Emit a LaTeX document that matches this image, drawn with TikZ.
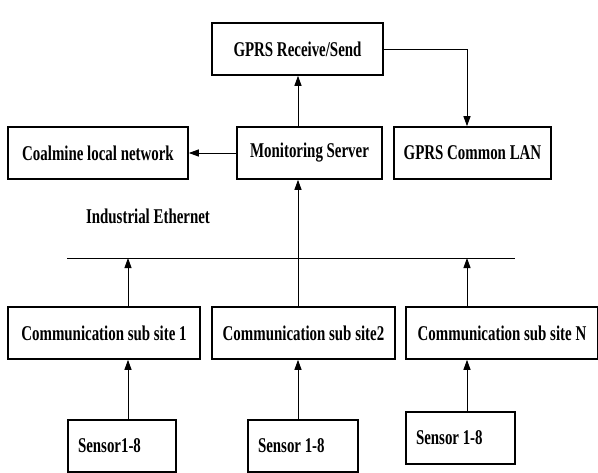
\documentclass[tikz,border=0pt]{standalone}
\usepackage{fontspec}
\usepackage{tikz}
\usetikzlibrary{arrows.meta}
\newfontfamily\diafont[FakeStretch=0.71]{Liberation Serif}

\begin{document}
\begin{tikzpicture}[x=1pt, y=-1pt, every node/.style = {shape=rectangle, draw, line width=1.6pt, fill=white, inner sep=0pt, align=center, font=\diafont\bfseries\fontsize{21}{23}\selectfont, minimum height=52pt}, link/.style = {draw, line width=1pt, -{Triangle[length=10pt,width=7pt]}}, sensorbox/.style = {inner xsep=10pt, align=flush left}]
    \useasboundingbox (0,0) rectangle (598,472);
    % columns of the links
    \coordinate (col1) at (128,0);
    \coordinate (col2) at (298,0);
    \coordinate (colN) at (467,0);
    % upper level
    \node[minimum width=171pt] (gprs) at (297.5,49) {GPRS Receive/Send};
    \node[minimum width=180pt] (coal) at (98,153) {Coalmine local network};
    \node[minimum width=145pt] (server) at (309.5,153) {Monitoring Server};
    \node[minimum width=157pt] (lan) at (472.5,153) {GPRS Common LAN};
    \node[draw=none, fill=none, minimum height=0pt] (eth) at (148,216) {Industrial Ethernet};
    % bus
    \coordinate (busl) at (67,258);
    \coordinate (busr) at (515,258);
    \draw[line width=1pt] (busl) -- (busr);
    % sub sites
    \node[minimum width=192pt] (site1) at (104,333) {Communication sub site 1};
    \node[minimum width=183pt] (site2) at (303.5,333) {Communication sub site2};
    \node[minimum width=192pt] (siteN) at (502,333) {Communication sub site N};
    % sensors
    \node[sensorbox, text width=88pt] (sen1) at (122,446) {Sensor1-8};
    \node[sensorbox, text width=90pt] (sen2) at (303,446) {Sensor 1-8};
    \node[sensorbox, text width=89pt] (senN) at (460.5,438) {Sensor 1-8};
    % connectors
    \path[link] (server.north -| col2) -- (gprs.south -| col2);
    \path[link] (server.west) -- (coal.east);
    \path[link] (gprs.east) -| (lan.north -| colN);
    \path[link] (site2.north -| col2) -- (server.south -| col2);
    \path[link] (site1.north -| col1) -- (busl -| col1);
    \path[link] (siteN.north -| colN) -- (busr -| colN);
    \path[link] (sen1.north -| col1) -- (site1.south -| col1);
    \path[link] (sen2.north -| col2) -- (site2.south -| col2);
    \path[link] (senN.north -| colN) -- (siteN.south -| colN);
\end{tikzpicture}
\end{document}
